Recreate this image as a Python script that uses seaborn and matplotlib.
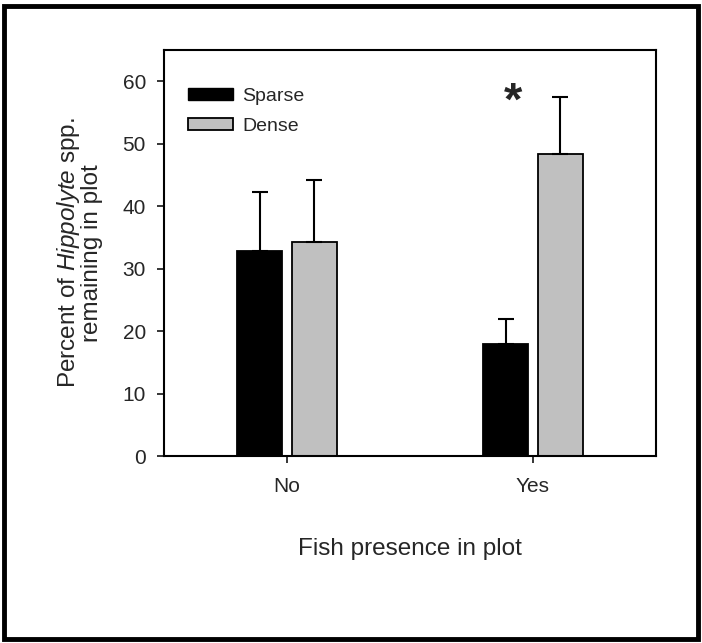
import pandas as pd
import matplotlib
matplotlib.use("Agg")
import matplotlib.pyplot as plt
import seaborn as sns
from matplotlib.patches import Rectangle, Patch

# values
fish = ["No", "No", "Yes", "Yes"]
density = ["Sparse", "Dense", "Sparse", "Dense"]
percent = [32.8, 34.3, 17.9, 48.3]
upper_err = [9.5, 9.9, 4.0, 9.2]

sns.set_style("white")
plt.rcParams["font.family"] = ["Liberation Sans", "DejaVu Sans"]
plt.rcParams["mathtext.fontset"] = "custom"
plt.rcParams["mathtext.rm"] = "Liberation Sans"
plt.rcParams["mathtext.it"] = "Liberation Sans:italic"

df = pd.DataFrame({"fish": fish, "density": density, "percent": percent, "err": upper_err})

fig = plt.figure(figsize=(7.02, 6.43), dpi=100)
ax = fig.add_axes([164 / 702, 1 - 456 / 643, 492 / 702, 406 / 643])

sns.barplot(data=df, x="fish", y="percent", hue="density", order=["No", "Yes"],
            hue_order=["Sparse", "Dense"], palette=["black", "#c0c0c0"],
            width=0.445, gap=0.18, edgecolor="black", linewidth=1.3,
            errorbar=None, legend=False, ax=ax)

# upper-only error bars centred on each bar
for patch in ax.patches:
    xc = patch.get_x() + patch.get_width() / 2
    h = patch.get_height()
    row = df[(df["percent"] - h).abs() < 1e-9].iloc[0]
    ax.errorbar(xc, h, yerr=[[0], [row["err"]]], fmt="none", ecolor="black",
                elinewidth=1.5, capsize=6, capthick=1.5)

# significance asterisk over the Yes group
ax.text(1 - 0.08, 56.6, "*", ha="center", va="center", fontsize=34, fontweight="bold")

ax.set_xlim(-0.5, 1.5)
ax.set_ylim(0, 65)
ax.set_yticks([0, 10, 20, 30, 40, 50, 60])
ax.tick_params(axis="both", direction="out", length=5, width=1.3, labelsize=15,
               bottom=True, left=True)
ax.tick_params(axis="x", pad=10)
ax.tick_params(axis="y", pad=8)
for s in ax.spines.values():
    s.set_linewidth(1.5)
    s.set_color("black")

ax.set_xlabel("Fish presence in plot", fontsize=17.5, labelpad=30)
ax.set_ylabel("Percent of $\\it{Hippolyte}$ spp.\nremaining in plot", fontsize=17.5,
              labelpad=14, linespacing=0.95)

handles = [Patch(facecolor="black", edgecolor="black", label="Sparse"),
           Patch(facecolor="#c0c0c0", edgecolor="black", linewidth=1.3, label="Dense")]
ax.legend(handles=handles, loc="upper left", bbox_to_anchor=(0.049, 0.907), frameon=False,
          fontsize=14, handlelength=2.3, handleheight=0.62, handletextpad=0.5,
          labelspacing=0.65, borderaxespad=0, borderpad=0)

# thick frame around whole figure
fig.patches.append(Rectangle((0.006, 0.006), 0.988, 0.985, transform=fig.transFigure,
                             fill=False, edgecolor="black", linewidth=3.5))

fig.savefig("out.png", dpi=100)
